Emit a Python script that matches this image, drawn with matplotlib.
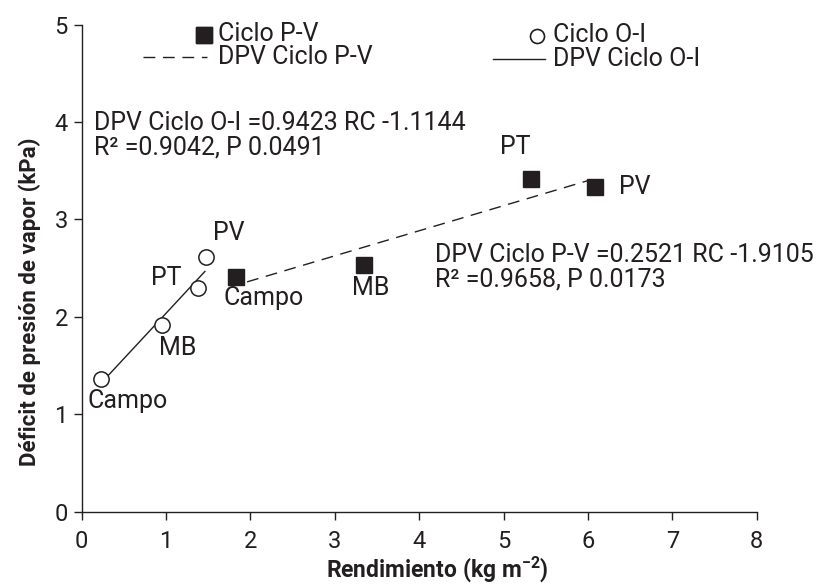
import numpy as np
import matplotlib
matplotlib.use("Agg")
import matplotlib.pyplot as plt

plt.rcParams['font.family'] = ['Roboto', 'DejaVu Sans']
plt.rcParams['mathtext.fontset'] = 'custom'
plt.rcParams['mathtext.rm'] = 'Roboto'
plt.rcParams['mathtext.bf'] = 'Roboto:bold'

# Data
labels = ["Campo", "MB", "PT", "PV"]
pv_x = [1.83, 3.34, 5.32, 6.08]
pv_y = [2.41, 2.53, 3.41, 3.33]
oi_x = [0.23, 0.955, 1.38, 1.475]
oi_y = [1.36, 1.915, 2.30, 2.61]
pv_line_x = [1.96, 6.01]
oi_line_x = [0.25, 1.46]
eq_oi = ["DPV Ciclo O-I =0.9423 RC -1.1144", "R² =0.9042, P 0.0491"]
eq_pv = ["DPV Ciclo P-V =0.2521 RC -1.9105", "R² =0.9658, P 0.0173"]
xticks = [0, 1, 2, 3, 4, 5, 6, 7, 8]
yticks = [0, 1, 2, 3, 4, 5]

C = '#231f20'
W, H = 823, 584
fig = plt.figure(figsize=(W / 100, H / 100), dpi=100)
ax = fig.add_axes([81.7 / W, 1 - 511.7 / H, (756.7 - 81.7) / W, (511.7 - 24.5) / H])

# regression lines
pv_fit = np.polyfit(pv_x, pv_y, 1)
oi_fit = np.polyfit(oi_x, oi_y, 1)
ax.plot(pv_line_x, np.polyval(pv_fit, pv_line_x), ls=(0, (8.5, 5.5)), color=C, lw=1)
ax.plot(oi_line_x, np.polyval(oi_fit, oi_line_x), ls='-', color=C, lw=1)

ax.plot(pv_x, pv_y, ls='none', marker='s', ms=11.5, color=C, zorder=3)
ax.plot(oi_x, oi_y, ls='none', marker='o', ms=11, mfc='white', mec=C, mew=1.1, zorder=3)

fs = 18
fw = 'normal'
oi_off = [(27, -29), (15, -30), (-32, 3), (23, 17)]
pv_off = [(28, -28), (7, -30), (-15, 25), (40, -7)]
for lab, x, y, o in zip(labels, oi_x, oi_y, oi_off):
    ax.annotate(lab, (x, y), xytext=o, textcoords='offset pixels', ha='center', va='baseline',
                fontsize=fs, fontweight=fw, color=C)
for lab, x, y, o in zip(labels, pv_x, pv_y, pv_off):
    ax.annotate(lab, (x, y), xytext=o, textcoords='offset pixels', ha='center', va='baseline',
                fontsize=fs, fontweight=fw, color=C)

# equations (pixel positions of baselines)
def fig_text(px, py, s, **kw):
    fig.text(px / W, 1 - py / H, s, fontsize=fs, fontweight=fw, color=C, va='baseline', ha='left', **kw)

fig_text(94, 130, eq_oi[0])
fig_text(94, 154, eq_oi[1])
fig_text(435, 262, eq_pv[0])
fig_text(435, 287, eq_pv[1])

# manual legend
def fig_line(x0, x1, py, **kw):
    fig.add_artist(plt.Line2D([x0 / W, x1 / W], [1 - py / H, 1 - py / H], transform=fig.transFigure, **kw))

fig_line(204, 204, 35, ls='none', marker='s', ms=11, color=C)
fig_line(143, 207, 57, ls=(0, (8.5, 5.5)), color=C, lw=1)
fig_line(537, 537, 36, ls='none', marker='o', ms=10, mfc='white', mec=C, mew=1.1)
fig_line(493, 545, 59, ls='-', color=C, lw=1)
fig_text(218, 41, "Ciclo P-V")
fig_text(218, 64, "DPV Ciclo P-V")
fig_text(553, 42, "Ciclo O-I")
fig_text(553, 66, "DPV Ciclo O-I")

ax.set_xlim(0, 8)
ax.set_ylim(0, 5)
ax.set_xticks(xticks)
ax.set_yticks(yticks)
ax.spines['top'].set_visible(False)
ax.spines['right'].set_visible(False)
for s in ['left', 'bottom']:
    ax.spines[s].set_color(C)
    ax.spines[s].set_linewidth(1)
ax.tick_params(direction='out', length=6, width=1, color=C, labelsize=17, labelcolor=C)
ax.tick_params(axis='x', pad=7)
ax.tick_params(axis='y', pad=4)

ax.set_xlabel(r"Rendimiento (kg m$^{\mathbf{-2}}$)", fontsize=16.5, fontweight='bold', color=C)
ax.set_ylabel("Déficit de presión de vapor (kPa)", fontsize=16, fontweight='bold', color=C)
ax.xaxis.set_label_coords((437 - 81.7) / (756.7 - 81.7), -(569 - 511.7) / (511.7 - 24.5))
ax.yaxis.set_label_coords(-(81.7 - 30) / (756.7 - 81.7), (511.7 - 302) / (511.7 - 24.5))
ax.xaxis.label.set_va('center')
ax.yaxis.label.set_va('center')

fig.savefig("out.png", dpi=100)
